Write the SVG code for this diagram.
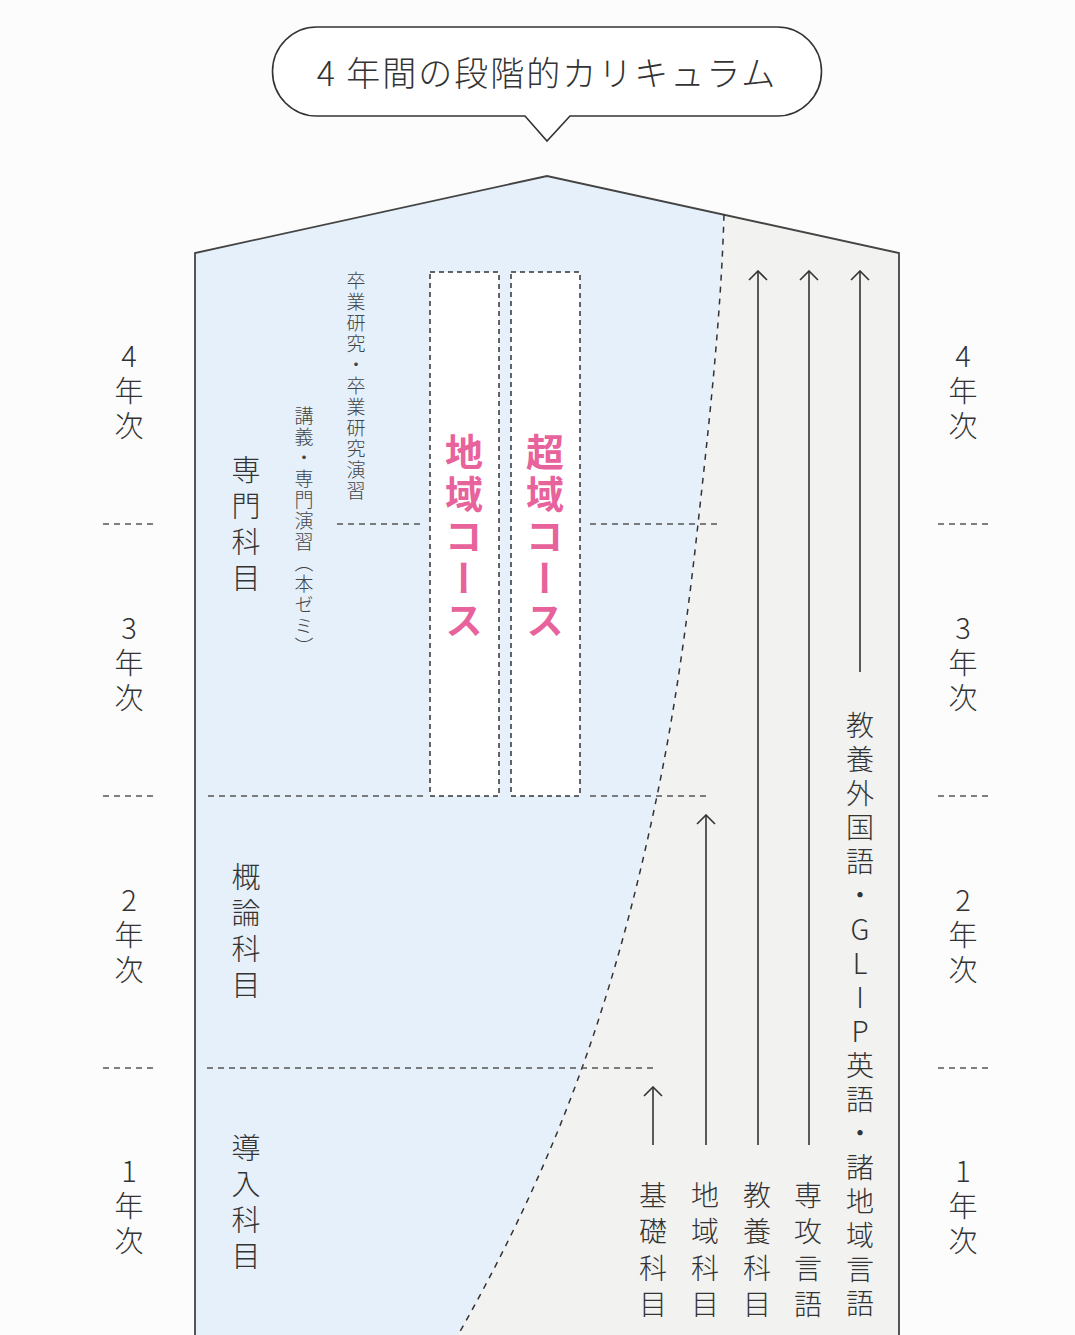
<svg xmlns="http://www.w3.org/2000/svg" width="1075" height="1335" viewBox="0 0 1075 1335">
<style>
text{font-family:"Noto Sans CJK JP","Noto Sans",sans-serif;fill:#333;font-weight:300}
.v{writing-mode:vertical-rl}
.up{text-orientation:upright}
.yr{font-size:29px;letter-spacing:6px}
.cat{font-size:29px;letter-spacing:7px}
.small{font-size:19px;letter-spacing:2px;fill:#444}
.course{font-size:38px;font-weight:bold;fill:#e8629c;letter-spacing:4px}
.sub{font-size:28px;letter-spacing:8.5px}
.dash{stroke:#555;stroke-width:1.3;stroke-dasharray:6 5;fill:none}
.box{fill:#fff;stroke:#333;stroke-width:1.5;stroke-dasharray:5 4}
.arr{stroke:#333;stroke-width:1.6;fill:none}
</style>
<defs>
<marker id="ah" viewBox="0 0 12 20" refX="10.5" refY="10" markerWidth="12" markerHeight="20" markerUnits="userSpaceOnUse" orient="auto">
<path d="M1.5,1 L10.5,10 L1.5,19" fill="none" stroke="#333" stroke-width="1.6"/>
</marker>
</defs>
<rect width="1075" height="1335" fill="#fcfcfc"/>
<g id="house">
<path d="M195,1335 V253 L547,176 L724,214.7 C720.9,317.3 709.4,420.7 698,524 C688,614.7 676,705.3 657,796 C638,886.7 614.7,977.3 582,1068 C550,1157 508.7,1246 458,1335 Z" fill="#e5f0fa"/>
<path d="M724,214.7 L899,253 V1335 H458 C508.7,1246 550,1157 582,1068 C614.7,977.3 638,886.7 657,796 C676,705.3 688,614.7 698,524 C709.4,420.7 720.9,317.3 724,214.7 Z" fill="#f2f2f1"/>
<path d="M195,1335 V253 L547,176 L899,253 V1335" fill="none" stroke="#444" stroke-width="1.8"/>
<path d="M724,214.7 C720.9,317.3 709.4,420.7 698,524 C688,614.7 676,705.3 657,796 C638,886.7 614.7,977.3 582,1068 C550,1157 508.7,1246 458,1335" fill="none" stroke="#333" stroke-width="1.5" stroke-dasharray="6 6"/>
</g>
<g id="title">
<path d="M317,27 H777 A44.5,44.5 0 0 1 777,116 H570 L547,141 L525,116 H317 A44.5,44.5 0 0 1 317,27 Z" fill="#fff" stroke="#333" stroke-width="1.6"/>
<text x="547" y="86" text-anchor="middle" font-size="34" letter-spacing="2">4 年間の段階的カリキュラム</text>
</g>
<g id="year-dividers">
<line class="dash" x1="103" y1="524" x2="156" y2="524"/>
<line class="dash" x1="103" y1="796" x2="156" y2="796"/>
<line class="dash" x1="103" y1="1068" x2="156" y2="1068"/>
<line class="dash" x1="938" y1="524" x2="991" y2="524"/>
<line class="dash" x1="938" y1="796" x2="991" y2="796"/>
<line class="dash" x1="938" y1="1068" x2="991" y2="1068"/>
<line class="dash" x1="337" y1="524" x2="420" y2="524"/>
<line class="dash" x1="590" y1="524" x2="720" y2="524"/>
<line class="dash" x1="208" y1="796" x2="428" y2="796"/>
<line class="dash" x1="590" y1="796" x2="708" y2="796"/>
<line class="dash" x1="207" y1="1068" x2="655" y2="1068"/>
</g>
<g id="year-labels">
<text class="v up yr" x="129" y="341">4年次</text>
<text class="v up yr" x="129" y="613">3年次</text>
<text class="v up yr" x="129" y="885">2年次</text>
<text class="v up yr" x="129" y="1156">1年次</text>
<text class="v up yr" x="963" y="341">4年次</text>
<text class="v up yr" x="963" y="613">3年次</text>
<text class="v up yr" x="963" y="885">2年次</text>
<text class="v up yr" x="963" y="1156">1年次</text>
</g>
<g id="category-labels">
<text class="v cat" x="246" y="455">専門科目</text>
<text class="v cat" x="246" y="862">概論科目</text>
<text class="v cat" x="246" y="1133">導入科目</text>
<text class="v small" x="356" y="271">卒業研究・卒業研究演習</text>
<text class="v small" x="304" y="406">講義・専門演習（本ゼミ）</text>
</g>
<g id="course-chiiki">
<rect class="box" x="430" y="272" width="69" height="524"/>
<text class="v course" x="464" y="433">地域コース</text>
</g>
<g id="course-choiki">
<rect class="box" x="511" y="272" width="69" height="524"/>
<text class="v course" x="545" y="433">超域コース</text>
</g>
<g id="connectors">
<line class="arr" x1="653" y1="1145" x2="653" y2="1087" marker-end="url(#ah)"/>
<line class="arr" x1="706" y1="1145" x2="706" y2="815" marker-end="url(#ah)"/>
<line class="arr" x1="758" y1="1145" x2="758" y2="271" marker-end="url(#ah)"/>
<line class="arr" x1="809" y1="1145" x2="809" y2="271" marker-end="url(#ah)"/>
<line class="arr" x1="860" y1="672" x2="860" y2="271" marker-end="url(#ah)"/>
</g>
<g id="subject-labels">
<text class="v sub" x="653" y="1181">基礎科目</text>
<text class="v sub" x="705" y="1181">地域科目</text>
<text class="v sub" x="757" y="1181">教養科目</text>
<text class="v sub" x="808" y="1181">専攻言語</text>
<text class="v up" x="860" y="711" font-size="28" letter-spacing="6">教養外国語・GLIP英語・諸地域言語</text>
</g>
</svg>
